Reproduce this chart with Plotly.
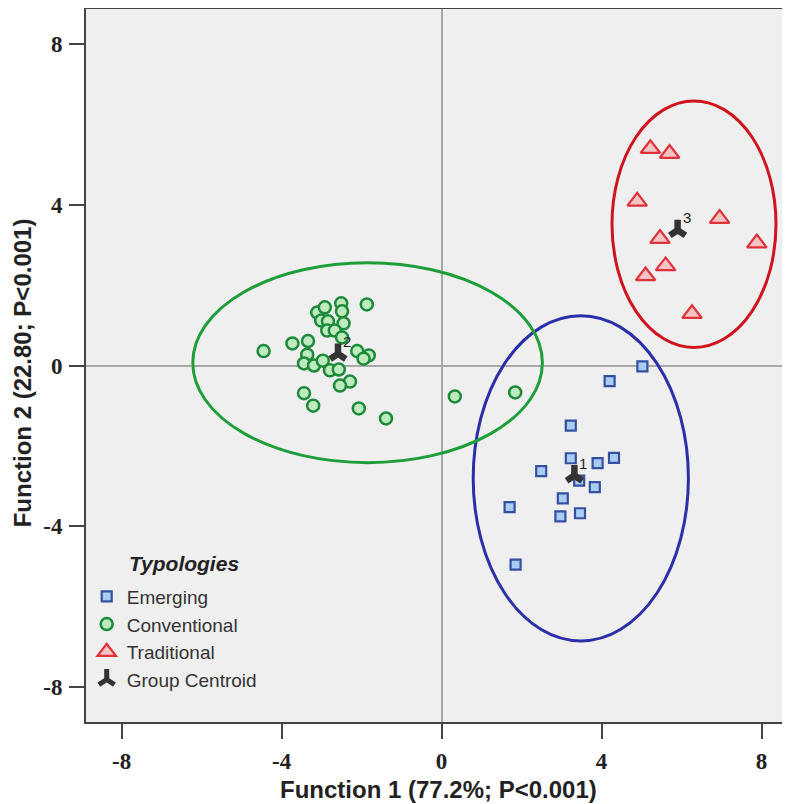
import plotly.graph_objects as go

# ---------------- data ----------------
emerging_x = [5.02, 4.20, 3.23, 3.23, 3.90, 4.31, 2.49, 3.44, 3.83, 3.03, 2.97, 3.46, 1.70, 1.85]
emerging_y = [-0.02, -0.39, -1.50, -2.31, -2.43, -2.30, -2.63, -2.87, -3.03, -3.31, -3.76, -3.68, -3.53, -4.96]

conventional_x = [-2.51, -1.87, -3.11, -2.92, -2.49, -3.01, -2.84, -2.45, -2.86, -2.67, -2.49,
                  -3.73, -3.34, -4.45, -3.36, -3.44, -3.19, -2.97, -2.79, -2.57, -2.11, -1.82,
                  -1.95, -2.29, -2.54, -3.44, -3.21, -2.07, -1.39, 0.33, 1.84]
conventional_y = [1.55, 1.52, 1.32, 1.45, 1.35, 1.12, 1.10, 1.05, 0.87, 0.87, 0.70,
                  0.55, 0.61, 0.36, 0.27, 0.05, 0.00, 0.12, -0.12, -0.10, 0.36, 0.25,
                  0.17, -0.40, -0.50, -0.69, -1.00, -1.07, -1.32, -0.77, -0.67]

traditional_x = [5.22, 5.70, 4.89, 6.95, 7.88, 5.46, 5.60, 5.10, 6.26]
traditional_y = [5.40, 5.28, 4.09, 3.66, 3.05, 3.16, 2.48, 2.23, 1.29]

centroid_labels = ["1", "2", "3"]
centroid_x = [3.32, -2.59, 5.90]
centroid_y = [-2.74, 0.29, 3.37]

# group ellipses: centre and semi-axes
ellipse_cx = [3.48, -1.85, 6.31]
ellipse_cy = [-2.81, 0.07, 3.52]
ellipse_rx = [2.69, 4.37, 2.05]
ellipse_ry = [4.05, 2.49, 3.07]

x_ticks = [-8, -4, 0, 4, 8]
y_ticks = [-8, -4, 0, 4, 8]

x_title = "Function 1 (77.2%; P<0.001)"
y_title = "Function 2 (22.80; P<0.001)"
legend_title = "Typologies"

# ---------------- styles ----------------
ellipse_colors = ["#2B2FA8", "#1E9E3A", "#D0141E"]

fig = go.Figure()

fig.add_trace(go.Scatter(
    x=emerging_x, y=emerging_y, mode="markers", name="Emerging",
    marker=dict(symbol="square", size=10, color="#A9CDF0",
                line=dict(color="#3550A0", width=2.2))))
fig.add_trace(go.Scatter(
    x=conventional_x, y=conventional_y, mode="markers", name="Conventional",
    marker=dict(symbol="circle", size=12, color="#BDEBBD",
                line=dict(color="#1C8A3A", width=2.5))))
fig.add_trace(go.Scatter(
    x=traditional_x, y=traditional_y, mode="markers", name="Traditional",
    marker=dict(symbol="triangle-up", size=17, color="#F7C4C4",
                line=dict(color="#E0303A", width=2.2))))
fig.add_trace(go.Scatter(
    x=centroid_x, y=centroid_y, mode="markers", name="Group Centroid",
    marker=dict(symbol="y-up", size=13, color="#333333",
                line=dict(color="#333333", width=6.5))))

for cx, cy, rx, ry, col in zip(ellipse_cx, ellipse_cy, ellipse_rx, ellipse_ry, ellipse_colors):
    fig.add_shape(type="circle", xref="x", yref="y",
                  x0=cx - rx, x1=cx + rx, y0=cy - ry, y1=cy + ry,
                  line=dict(color=col, width=3), layer="above")

for lab, cx, cy in zip(centroid_labels, centroid_x, centroid_y):
    fig.add_annotation(x=cx, y=cy, text=lab, showarrow=False, xref="x", yref="y",
                       xanchor="left", yanchor="bottom", xshift=3, yshift=2,
                       font=dict(family="Liberation Sans, Arial", size=15, color="#222222"))

fig.add_annotation(text="<b><i>" + legend_title + "</i></b>", xref="paper", yref="paper",
                   x=0.0585, y=0.222, xanchor="left", yanchor="middle", showarrow=False,
                   font=dict(family="Liberation Sans, Arial", size=21, color="#222222"))

fig.add_annotation(text="<b>" + x_title + "</b>", xref="paper", yref="paper",
                   x=0.5, y=0, yshift=-67, xanchor="center", yanchor="middle", showarrow=False,
                   font=dict(family="Liberation Sans, Arial", size=24, color="#222222"))
fig.add_annotation(text="<b>" + y_title + "</b>", xref="paper", yref="paper",
                   x=0, xshift=-64, y=0.489, xanchor="center", yanchor="middle", textangle=-90,
                   showarrow=False,
                   font=dict(family="Liberation Sans, Arial", size=24, color="#222222"))

axis_common = dict(showgrid=False, zeroline=True, zerolinecolor="#A8A8A8", zerolinewidth=1.5,
                   showline=True, linecolor="#444444", linewidth=2, mirror=True,
                   ticks="outside", ticklen=15, tickcolor="#444444", tickwidth=1.5,
                   automargin=False,
                   tickfont=dict(family="Liberation Serif, Times New Roman", size=23, color="#222222"))

fig.update_layout(
    width=782, height=796,
    margin=dict(l=78, r=0, t=1, b=82, pad=0),
    paper_bgcolor="white", plot_bgcolor="#EFEFEF",
    showlegend=True,
    legend=dict(x=0.001, y=0.2026, xanchor="left", yanchor="top",
                bgcolor="rgba(0,0,0,0)", tracegroupgap=0, itemsizing="trace",
                font=dict(family="Liberation Sans, Arial", size=19, color="#333333")),
    xaxis=dict(range=[-8.89, 8.71], tickvals=x_ticks,
               ticktext=[f"<b>{v}</b>" for v in x_ticks], ticklabelstandoff=2, **axis_common),
    yaxis=dict(range=[-8.88, 8.88], tickvals=y_ticks,
               ticktext=[f"<b>{v}</b>" for v in y_ticks], ticklabelstandoff=2, **axis_common),
)

fig.write_html("out.html")
